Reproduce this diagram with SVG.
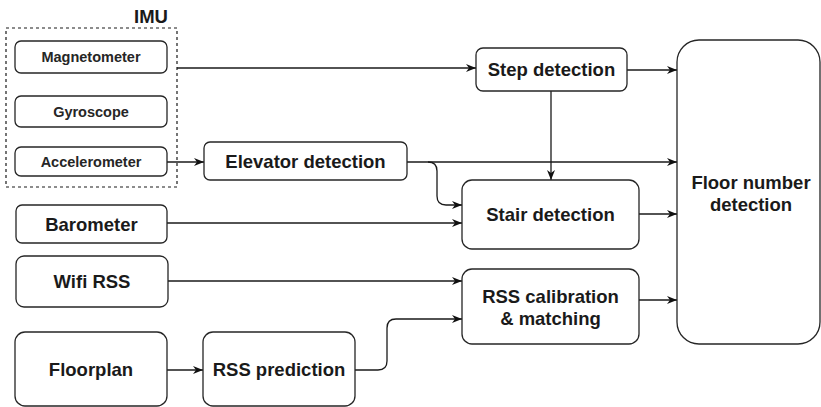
<svg xmlns="http://www.w3.org/2000/svg" width="821" height="407" viewBox="0 0 821 407">
<style>
.box{fill:#fff;stroke:#262626;stroke-width:1.3}
.imu{fill:none;stroke:#1a1a1a;stroke-width:1.2;stroke-dasharray:3 3}
.t{font-family:"Liberation Sans",Arial,sans-serif;font-weight:bold;font-size:18.5px;fill:#1a1a1a;text-anchor:middle}
.s{font-family:"Liberation Sans",Arial,sans-serif;font-weight:bold;font-size:14.5px;fill:#262626;text-anchor:middle}
.c{fill:none;stroke:#1a1a1a;stroke-width:1.3;marker-end:url(#a)}
</style>
<defs>
<marker id="a" markerUnits="userSpaceOnUse" markerWidth="11" markerHeight="9" refX="10" refY="4.5" orient="auto">
<path d="M0,0.5 L10,4.5 L0,8.5 L3,4.5 z" fill="#111"/>
</marker>
</defs>
<g id="connectors">
<path class="c" d="M177 68 H476"/>
<path class="c" d="M167 162 H204"/>
<path class="c" d="M407 162 H677"/>
<path class="c" d="M428 162 Q437 162 437 171 V196 Q437 205 446 205 H462"/>
<path class="c" d="M167 223 H462"/>
<path class="c" d="M627 70 H677"/>
<path class="c" d="M551 91 V180"/>
<path class="c" d="M639 214 H677"/>
<path class="c" d="M168 281 H462"/>
<path class="c" d="M167 370 H203"/>
<path class="c" d="M355 370 H378 Q387 370 387 361 V328 Q387 319 396 319 H462"/>
<path class="c" d="M639 300 H677"/>
</g>
<g id="imu">
<rect class="imu" x="6" y="28" width="171" height="159"/>
<text class="t" x="151" y="23">IMU</text>
</g>
<g id="magnetometer"><rect class="box" x="15" y="41" width="152" height="32" rx="6"/><text class="s" x="91" y="62">Magnetometer</text></g>
<g id="gyroscope"><rect class="box" x="15" y="96" width="152" height="31" rx="6"/><text class="s" x="91" y="116.5">Gyroscope</text></g>
<g id="accelerometer"><rect class="box" x="15" y="147" width="152" height="29" rx="6"/><text class="s" x="91" y="166.5">Accelerometer</text></g>
<g id="elevator"><rect class="box" x="204" y="142" width="203" height="38" rx="6"/><text class="t" x="305.5" y="167.5">Elevator detection</text></g>
<g id="barometer"><rect class="box" x="16" y="205" width="151" height="38" rx="6"/><text class="t" x="91.5" y="230.5">Barometer</text></g>
<g id="wifi"><rect class="box" x="16" y="256" width="152" height="51" rx="8"/><text class="t" x="92" y="288">Wifi RSS</text></g>
<g id="floorplan"><rect class="box" x="15" y="332" width="152" height="74" rx="10"/><text class="t" x="91" y="376">Floorplan</text></g>
<g id="rssprediction"><rect class="box" x="203" y="332" width="152" height="74" rx="10"/><text class="t" x="279" y="376">RSS prediction</text></g>
<g id="step"><rect class="box" x="476" y="48" width="151" height="43" rx="7"/><text class="t" x="551.5" y="76">Step detection</text></g>
<g id="stair"><rect class="box" x="462" y="180" width="177" height="69" rx="10"/><text class="t" x="550.5" y="221">Stair detection</text></g>
<g id="rsscal"><rect class="box" x="462" y="269" width="177" height="75" rx="10"/><text class="t" x="550.5" y="303">RSS calibration</text><text class="t" x="550.5" y="325">&amp; matching</text></g>
<g id="floor"><rect class="box" x="677" y="40" width="143" height="304" rx="22"/><text class="t" x="751" y="189">Floor number</text><text class="t" x="751" y="211">detection</text></g>
</svg>
